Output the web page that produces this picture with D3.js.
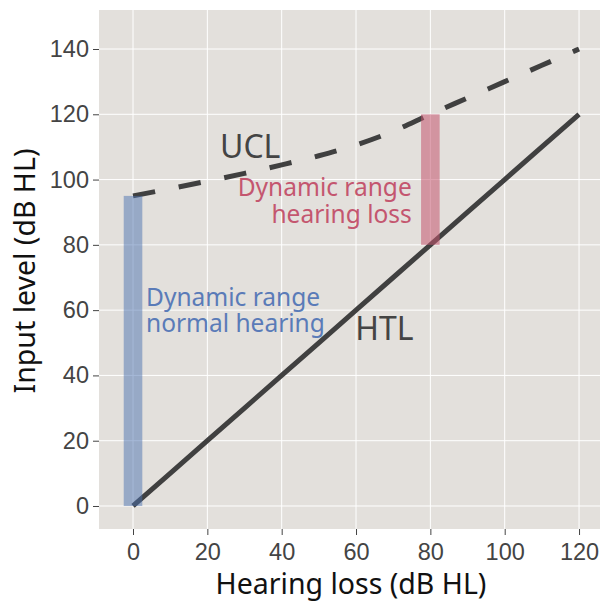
<!DOCTYPE html>
<html>
<head>
<meta charset="utf-8">
<script src="https://cdn.jsdelivr.net/npm/d3@7"></script>
<style>
  body { margin: 0; background: #fff; }
  svg { display: block; font-family: "Noto Sans", "Open Sans", sans-serif; }
  .grid line { stroke: #fff; stroke-width: 1; }
  .axis text { fill: #444; font-size: 23.5px; }
  .axis line { stroke: #444; }
</style>
</head>
<body>
<div id="chart"></div>
<script>
// donnees
const hearingLoss = [0, 10, 20, 30, 40, 50, 60, 70, 80, 90, 100, 110, 120];
const htl = [0, 10, 20, 30, 40, 50, 60, 70, 80, 90, 100, 110, 120];
const ucl = [95, 97.2, 99.5, 101.9, 104.5, 107.3, 110.6, 114.8, 120, 125, 130, 135, 140];
const xTicks = [0, 20, 40, 60, 80, 100, 120];
const yTicks = [0, 20, 40, 60, 80, 100, 120, 140];
// plages dynamiques : [x, bas, haut]
const rangeNormal = [0, 0, 95];
const rangeLoss = [80, 80, 120];

const W = 600, H = 601;
const margin = {top: 10, right: 0, bottom: 72, left: 99};
const width = W - margin.left - margin.right,
    height = H - margin.top - margin.bottom;

const x = d3.scaleLinear().domain([-9.15, 125.64]).range([0, width]);
const y = d3.scaleLinear().domain([-7.05, 151.95]).range([height, 0]);

const svg = d3.select("#chart").append("svg")
    .attr("width", W)
    .attr("height", H)
    .append("g")
    .attr("transform", "translate(" + margin.left + "," + margin.top + ")");

// fond
svg.append("rect")
    .attr("width", width)
    .attr("height", height)
    .attr("fill", "#e3e0dc");

// grille
const grid = svg.append("g").attr("class", "grid");
grid.selectAll(".gx").data(xTicks).enter().append("line")
    .attr("x1", d => x(d)).attr("x2", d => x(d))
    .attr("y1", 0).attr("y2", height);
grid.selectAll(".gy").data(yTicks).enter().append("line")
    .attr("y1", d => y(d)).attr("y2", d => y(d))
    .attr("x1", 0).attr("x2", width);

// axes
const xAxis = svg.append("g")
    .attr("class", "axis")
    .attr("transform", "translate(0," + height + ")")
    .call(d3.axisBottom(x).tickValues(xTicks).tickSize(6));
xAxis.select(".domain").remove();
xAxis.selectAll("text").attr("y", 31).attr("dy", 0);

const yAxis = svg.append("g")
    .attr("class", "axis")
    .call(d3.axisLeft(y).tickValues(yTicks).tickSize(6).tickPadding(4));
yAxis.select(".domain").remove();

// titres des axes
svg.append("text")
    .attr("x", 351 - margin.left)
    .attr("y", height + 65)
    .attr("text-anchor", "middle")
    .attr("font-size", "28.5px")
    .attr("fill", "#111")
    .text("Hearing loss (dB HL)");

svg.append("text")
    .attr("transform", "translate(" + (35 - margin.left) + "," + (271 - margin.top) + ") rotate(-90)")
    .attr("text-anchor", "middle")
    .attr("font-size", "28.5px")
    .attr("fill", "#111")
    .text("Input level (dB HL)");

// courbes
const lineHtl = d3.line()
    .x((d, i) => x(hearingLoss[i]))
    .y(d => y(d));
const lineUcl = d3.line()
    .x((d, i) => x(hearingLoss[i]))
    .y(d => y(d))
    .curve(d3.curveMonotoneX);

svg.append("path")
    .datum(htl)
    .attr("d", lineHtl)
    .attr("fill", "none")
    .attr("stroke", "#404040")
    .attr("stroke-width", 5);

svg.append("path")
    .datum(ucl)
    .attr("d", lineUcl)
    .attr("fill", "none")
    .attr("stroke", "#404040")
    .attr("stroke-width", 5)
    .attr("stroke-dasharray", "22.5,24");

// barres semi-transparentes
const barW = 5;
svg.append("rect")
    .attr("x", x(rangeNormal[0] - barW / 2))
    .attr("width", x(barW) - x(0))
    .attr("y", y(rangeNormal[2]))
    .attr("height", y(rangeNormal[1]) - y(rangeNormal[2]))
    .attr("fill", "#4c72b0")
    .attr("fill-opacity", 0.5);

svg.append("rect")
    .attr("x", x(rangeLoss[0] - barW / 2))
    .attr("width", x(barW) - x(0))
    .attr("y", y(rangeLoss[2]))
    .attr("height", y(rangeLoss[1]) - y(rangeLoss[2]))
    .attr("fill", "#c4566f")
    .attr("fill-opacity", 0.55);

// etiquettes
svg.append("text")
    .attr("x", x(23.4)).attr("y", y(106.6))
    .attr("font-size", "32px").attr("fill", "#444")
    .text("UCL");

svg.append("text")
    .attr("x", x(59.8)).attr("y", y(51))
    .attr("font-size", "32px").attr("fill", "#444")
    .text("HTL");

const blueText = svg.append("text")
    .attr("x", x(3.5)).attr("y", y(61.3))
    .attr("font-size", "24.5px").attr("fill", "#5a7bb8");
blueText.append("tspan").attr("x", x(3.5)).text("Dynamic range");
blueText.append("tspan").attr("x", x(3.5)).attr("dy", 26).text("normal hearing");

const redText = svg.append("text")
    .attr("x", x(75)).attr("y", y(95.1))
    .attr("text-anchor", "end")
    .attr("font-size", "24.5px").attr("fill", "#c4566f");
redText.append("tspan").attr("x", x(75)).text("Dynamic range");
redText.append("tspan").attr("x", x(75)).attr("dy", 27.5).text("hearing loss");
</script>
</body>
</html>
